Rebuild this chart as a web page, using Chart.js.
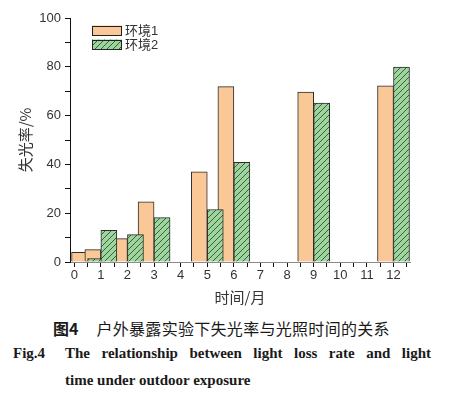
<!DOCTYPE html>
<html><head><meta charset="utf-8">
<script src="https://cdn.jsdelivr.net/npm/chart.js@4"></script>
<style>
html,body{margin:0;padding:0;background:#fff;}
#wrap{position:relative;width:462px;height:397px;overflow:hidden;background:#fff;}
#c{position:absolute;left:0;top:0;}
.cap{position:absolute;white-space:nowrap;color:#1a1a1a;}
.en{font-family:"Liberation Serif","DejaVu Serif",serif;font-weight:bold;font-size:15px;line-height:18px;}
</style></head><body>
<div id="wrap">
<canvas id="c" width="462" height="310"></canvas>
<div class="cap" style="left:53px;top:318px;font-family:'Noto Sans CJK SC';font-size:16px;line-height:20px;"><span style="font-weight:bold">图4</span><span style="margin-left:18px;letter-spacing:0.3px">户外暴露实验下失光率与光照时间的关系</span></div>
<div class="cap en" style="left:13px;top:344px;">Fig.4</div>
<div class="cap en" style="left:65px;top:344px;width:366px;white-space:normal;text-align:justify;text-align-last:justify;">The relationship between light loss rate and light</div>
<div class="cap en" style="left:65px;top:371px;">time under outdoor exposure</div>
</div>
<script>
// ---- data ----
const months = [0.5, 1, 2, 3, 5, 6, 9, 12];
const env1 = [4.0, 5.1, 9.6, 24.7, 37.0, 71.9, 69.6, 72.2];
const env2 = [1.4, 13.0, 11.2, 18.2, 21.5, 40.8, 65.1, 79.9];
const seriesNames = ['环境1', '环境2'];
const xTickLabels = [0, 1, 2, 3, 4, 5, 6, 7, 8, 9, 10, 11, 12];
const yTickLabels = [0, 20, 40, 60, 80, 100];
const xTitle = '时间/月';
const yTitle = '失光率/%';

function hatch(bg, line) {
  const s = 6;
  const c = document.createElement('canvas');
  c.width = s; c.height = s;
  const g = c.getContext('2d');
  g.fillStyle = bg; g.fillRect(0, 0, s, s);
  g.strokeStyle = line; g.lineWidth = 0.8;
  g.beginPath();
  g.moveTo(0, s); g.lineTo(s, 0);
  g.moveTo(-1, 1); g.lineTo(1, -1);
  g.moveTo(s - 1, s + 1); g.lineTo(s + 1, s - 1);
  g.stroke();
  return g.createPattern(c, 'repeat');
}

const orange = '#FAC797';
const greenHatch = hatch('#9DD69D', '#2a3a2a');

const drawInOrder = {
  id: 'drawInOrder',
  beforeDatasetsDraw(chart) {
    chart.data.datasets.forEach((d, i) => {
      const meta = chart.getDatasetMeta(i);
      if (meta.visible !== false) chart._drawDataset(meta);
    });
    return false;
  }
};

const insideLegend = {
  id: 'insideLegend',
  afterDraw(chart) {
    const {ctx, chartArea} = chart;
    ctx.save();
    chart.data.datasets.forEach((ds, i) => {
      const x = chartArea.left + 22, y = chartArea.top + 7.5 + i * 14, w = 30, h = 10;
      ctx.fillStyle = ds.backgroundColor;
      ctx.fillRect(x, y, w, h);
      ctx.strokeStyle = '#222'; ctx.lineWidth = 1;
      ctx.strokeRect(Math.round(x) + 0.5, Math.round(y) + 0.5, w - 1, h - 1);
      ctx.fillStyle = '#333';
      ctx.font = '13px "Liberation Sans", "Noto Sans CJK SC"';
      ctx.textBaseline = 'middle';
      ctx.textAlign = 'left';
      ctx.fillText(ds.label, x + w + 3, y + h / 2 + 0.5);
    });
    ctx.restore();
  }
};

const tickFont = {family: '"Liberation Sans", Arial, sans-serif', size: 13};
const isInt = v => Math.abs(v - Math.round(v)) < 1e-6;

new Chart(document.getElementById('c'), {
  type: 'bar',
  data: {
    datasets: [
      {label: seriesNames[0], data: months.map((m, i) => ({x: m, y: env1[i]})),
       backgroundColor: orange, borderColor: '#2b2b2b', borderWidth: 1, barThickness: 16},
      {label: seriesNames[1], data: months.map((m, i) => ({x: m, y: env2[i]})),
       backgroundColor: greenHatch, borderColor: '#2b2b2b', borderWidth: 1, barThickness: 16}
    ]
  },
  options: {
    responsive: false,
    animation: false,
    events: [],
    layout: {padding: {left: 0, right: 52, top: 18, bottom: 0}},
    plugins: {legend: {display: false}, tooltip: {enabled: false}},
    scales: {
      x: {
        type: 'linear', min: -0.16, max: 12.62, offset: false,
        grid: {display: true, offset: false, drawOnChartArea: false, drawTicks: true, tickLength: 5, tickColor: '#111'},
        border: {display: true, color: '#8a8a8a', width: 1},
        ticks: {stepSize: 0.5, autoSkip: false, includeBounds: false, maxRotation: 0, padding: 1, color: '#333', font: tickFont,
          callback: v => (isInt(v) && xTickLabels.includes(Math.round(v))) ? String(Math.round(v)) : ''},
        title: {display: true, text: xTitle, color: '#333', font: {family: '"Noto Sans CJK SC"', size: 15}, padding: {top: 0, bottom: 4}},
        afterFit: s => { s.height = 48; }
      },
      y: {
        min: 0, max: 100,
        grid: {display: true, drawOnChartArea: false, drawTicks: true, tickLength: 5, tickColor: '#111'},
        border: {display: true, color: '#111', width: 1},
        ticks: {stepSize: 10, autoSkip: false, padding: 4, color: '#333', font: tickFont,
          callback: v => yTickLabels.includes(v) ? String(v) : ''},
        title: {display: true, text: yTitle, color: '#333', font: {family: '"Noto Sans CJK SC"', size: 15}, padding: {top: 16, bottom: 0}},
        afterFit: s => { s.width = 70; }
      }
    }
  },
  plugins: [drawInOrder, insideLegend]
});
</script>
</body></html>
